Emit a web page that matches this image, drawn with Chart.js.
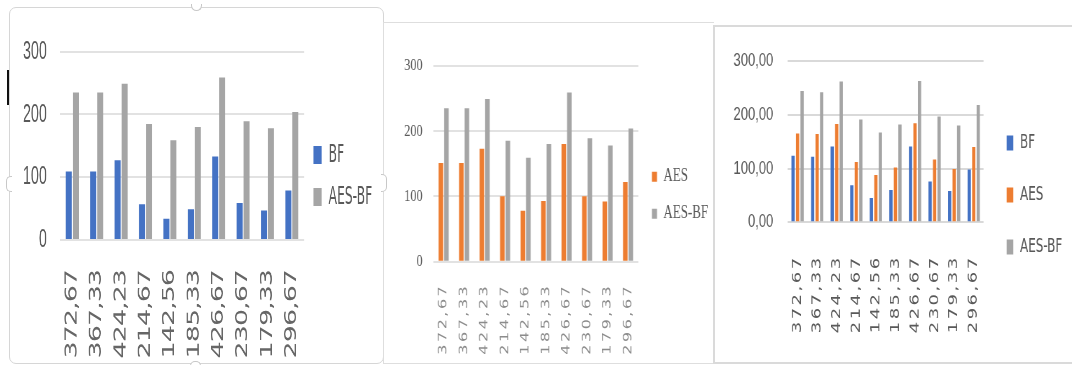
<!DOCTYPE html>
<html>
<head>
<meta charset="utf-8">
<script src="https://cdn.jsdelivr.net/npm/chart.js@4.4.1/dist/chart.umd.min.js"></script>
<style>
  html, body { margin: 0; padding: 0; background: #fff; width: 1072px; height: 365px; overflow: hidden; }
  .frame { position: absolute; box-sizing: border-box; }
  .handle { position: absolute; box-sizing: border-box; border: 1px solid #c8c8c8; background: #fff; }
  canvas { position: absolute; transform-origin: 0 0; }
</style>
</head>
<body>
<div class="frame" style="left:9px;top:7px;width:375px;height:357px;border:1.5px solid #d6d6d6;border-radius:7px;"></div>
<div class="frame" style="left:383px;top:22px;width:331px;height:342px;border:1.5px solid #dedede;border-right:none;"></div>
<div class="frame" style="left:713px;top:25px;width:380px;height:339px;border:2.5px solid #dadada;border-right:none;"></div>
<div class="handle" style="left:191px;top:4px;width:11px;height:7px;border-radius:0 0 6px 6px;border-top:none;"></div>
<div class="handle" style="left:6px;top:176px;width:6px;height:16px;border-radius:5px 0 0 5px;border-right:none;"></div>
<div class="handle" style="left:381px;top:174px;width:6px;height:18px;border-radius:0 5px 5px 0;border-left:none;"></div>
<div class="handle" style="left:190px;top:361px;width:11px;height:5px;border-radius:6px 6px 0 0;border-bottom:none;"></div>
<div style="position:absolute;left:7px;top:70px;width:2px;height:35px;background:#111;"></div>

<canvas id="chartBF"></canvas>
<canvas id="chartAES"></canvas>
<canvas id="chartAll"></canvas>

<script>
// Category labels shared by all three charts
const categories = ['372,67', '367,33', '424,23', '214,67', '142,56', '185,33', '426,67', '230,67', '179,33', '296,67'];
const yTickLabels = ['0', '100', '200', '300'];
const yTickLabelsDecimal = ['0,00', '100,00', '200,00', '300,00'];

// Chart 1: BF vs AES-BF
const bfValues = [109, 109, 127, 57, 34, 49, 133, 59, 47, 79];
const aesBfValues = [235, 235, 249, 185, 159, 180, 259, 189, 178, 204];

// Chart 2: AES vs AES-BF
const aesValues = [151, 151, 173, 100, 78, 93, 180, 100, 92, 122];

// Chart 3: BF, AES and AES-BF
const bfValues3 = [124, 122, 141, 69, 45, 60, 141, 76, 58, 98];
const aesValues3 = [165, 164, 183, 112, 88, 102, 184, 117, 99, 140];
const aesBfValues3 = [244, 242, 262, 191, 167, 182, 263, 197, 180, 218];

const BLUE = '#4472c4';
const ORANGE = '#ed7d31';
const GREY = '#a5a5a5';
const TEXT = '#595959';

const CONDENSED = "'DejaVu Sans Condensed', 'Liberation Sans', sans-serif";
const SANS = "'Liberation Sans', Arial, sans-serif";
const SERIF = "'Liberation Serif', 'Times New Roman', serif";
const WIDE = "'DejaVu Sans', Verdana, sans-serif";

function widestText(font, texts) {
  const ctx = document.createElement('canvas').getContext('2d');
  ctx.font = font;
  return Math.max(...texts.map(t => ctx.measureText(t).width));
}

// Applies letter spacing to the category labels only
const spacedLabels = {
  id: 'spacedLabels',
  beforeDraw(chart, args, opts) {
    const scale = chart.scales.x;
    if (!opts.spacing || scale.$spaced) return;
    const original = scale.drawLabels;
    scale.drawLabels = function (area) {
      const ctx = this.ctx;
      ctx.save();
      ctx.letterSpacing = opts.spacing;
      original.call(this, area);
      ctx.restore();
    };
    scale.$spaced = true;
  }
};

function drawPanel(p) {
  const canvas = document.getElementById(p.id);
  const cw = Math.round(p.width / p.squeeze);
  canvas.width = cw;
  canvas.height = p.height;
  canvas.style.left = p.left + 'px';
  canvas.style.top = p.top + 'px';
  canvas.style.transform = 'scaleX(' + (p.width / cw) + ')';

  const legendWidth = cw - p.plot.right;
  const natural = p.legend.padding + p.legend.boxW + p.legend.size / 2 +
    widestText(p.legend.size + 'px ' + p.legend.family, p.series.map(s => s.label)) + 10;
  const padRight = Math.max(0, legendWidth - natural);
  const xHeight = p.height - p.plot.bottom;
  // empty legend title used as a spacer so the first entry starts at legend.firstY
  const titleGap = p.legend.firstY - p.plot.top - p.legend.padding - 1.2;

  new Chart(canvas, {
    type: 'bar',
    data: {
      labels: categories,
      datasets: p.series.map(s => ({
        label: s.label,
        data: s.data,
        backgroundColor: s.color,
        borderWidth: 0,
        categoryPercentage: p.catPct,
        barPercentage: p.barPct
      }))
    },
    options: {
      responsive: false,
      animation: false,
      events: [],
      layout: { padding: { left: 0, top: p.plot.top, right: padRight, bottom: 0 } },
      scales: {
        x: {
          grid: { display: false },
          border: { display: false },
          ticks: {
            minRotation: 90, maxRotation: 90, autoSkip: false,
            padding: p.xTicks.padding, color: p.xTicks.color,
            font: { family: p.xTicks.family, size: p.xTicks.size }
          },
          afterFit(scale) { scale.height = xHeight; }
        },
        y: {
          min: 0, max: 300,
          grid: { color: p.grid.color, lineWidth: p.grid.width, drawTicks: false },
          border: { display: false },
          ticks: {
            stepSize: 100, padding: p.yTicks.padding, color: TEXT,
            font: { family: p.yTicks.family, size: p.yTicks.size },
            callback: (v, i) => p.yTicks.labels[i]
          },
          afterFit(scale) { scale.width = p.plot.left; }
        }
      },
      plugins: {
        legend: {
          position: 'right',
          align: 'start',
          maxWidth: legendWidth,
          title: { display: true, text: '', font: { size: 1 }, padding: { top: titleGap, bottom: 0 } },
          labels: {
            boxWidth: p.legend.boxW, boxHeight: p.legend.boxH,
            padding: p.legend.padding, color: TEXT,
            font: { family: p.legend.family, size: p.legend.size }
          }
        },
        tooltip: { enabled: false },
        spacedLabels: { spacing: p.xTicks.spacing }
      }
    },
    plugins: [spacedLabels]
  });
}

drawPanel({
  id: 'chartBF', left: 10, top: 7, width: 373, height: 356, squeeze: 0.55,
  plot: { left: 91, right: 534.5, top: 44.7, bottom: 233 },
  catPct: 0.574, barPct: 0.86,
  grid: { color: '#e2e2e2', width: 2 },
  yTicks: { family: SANS, size: 26, padding: 24, labels: yTickLabels },
  xTicks: { family: CONDENSED, size: 30, padding: 22, color: '#666666', spacing: '-1px' },
  legend: { family: CONDENSED, size: 25, boxW: 15, boxH: 18, padding: 17, firstY: 135.5 },
  series: [
    { label: 'BF', data: bfValues, color: BLUE },
    { label: 'AES-BF', data: aesBfValues, color: GREY }
  ]
});

drawPanel({
  id: 'chartAES', left: 383, top: 22, width: 329, height: 341, squeeze: 0.72,
  plot: { left: 70, right: 354.6, top: 43.7, bottom: 239.7 },
  catPct: 0.54, barPct: 0.82,
  grid: { color: '#e2e2e2', width: 2 },
  yTicks: { family: SERIF, size: 17, padding: 15, labels: yTickLabels },
  xTicks: { family: WIDE, size: 16, padding: 14, color: '#8c8c8c', spacing: '2.5px' },
  legend: { family: SERIF, size: 18, boxW: 7, boxH: 10, padding: 19, firstY: 145.7 },
  series: [
    { label: 'AES', data: aesValues, color: ORANGE },
    { label: 'AES-BF', data: aesBfValues, color: GREY }
  ]
});

drawPanel({
  id: 'chartAll', left: 714, top: 26, width: 358, height: 337, squeeze: 0.7,
  plot: { left: 105.3, right: 384.7, top: 35, bottom: 196.3 },
  catPct: 0.69, barPct: 0.73,
  grid: { color: '#d9d9d9', width: 2 },
  yTicks: { family: SANS, size: 18.6, padding: 20.6, labels: yTickLabelsDecimal },
  xTicks: { family: WIDE, size: 18, padding: 25, color: TEXT, spacing: '2.5px' },
  legend: { family: CONDENSED, size: 19, boxW: 9.5, boxH: 15, padding: 33, firstY: 107.5 },
  series: [
    { label: 'BF', data: bfValues3, color: BLUE },
    { label: 'AES', data: aesValues3, color: ORANGE },
    { label: 'AES-BF', data: aesBfValues3, color: GREY }
  ]
});
</script>
</body>
</html>
